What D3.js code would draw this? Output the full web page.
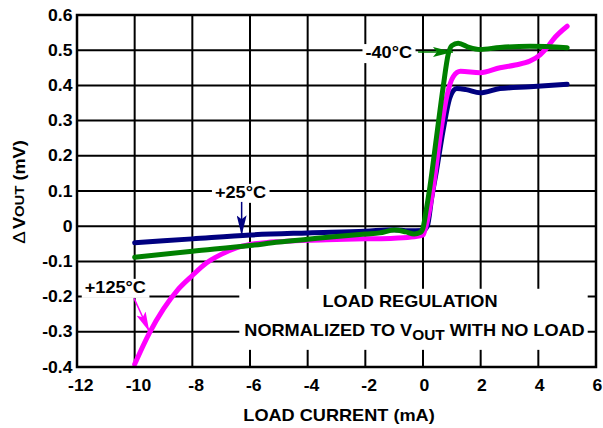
<!DOCTYPE html>
<html>
<head>
<meta charset="utf-8">
<script src="https://cdn.jsdelivr.net/npm/d3@7"></script>
<style>
  html, body { margin: 0; padding: 0; background: #fff; }
  text { font-family: "Liberation Sans", Arial, sans-serif; font-weight: bold; fill: #000; }
</style>
</head>
<body>
<svg id="chart" width="603" height="428"></svg>
<script>
// axis ticks
const xTicks = [-12, -10, -8, -6, -4, -2, 0, 2, 4, 6];
const yTicks = [0.6, 0.5, 0.4, 0.3, 0.2, 0.1, 0, -0.1, -0.2, -0.3, -0.4];
const yTickLabels = ["0.6", "0.5", "0.4", "0.3", "0.2", "0.1", "0", "-0.1", "-0.2", "-0.3", "-0.4"];

// +25°C (load current mA, delta Vout mV)
const cur25 = [-10, -8, -6, -4, -2, -1, -0.5, 0, 0.15, 0.3, 0.47, 0.7, 0.94, 1.17, 1.5, 1.98, 2.67, 3.71, 5.0];
const mv25 = [-0.047, -0.036, -0.025, -0.019, -0.014, -0.01, -0.013, -0.012, 0.0, 0.08, 0.159, 0.273, 0.367, 0.391, 0.388, 0.379, 0.391, 0.396, 0.403];

// -40°C
const curM40 = [-10, -8, -6, -5, -4, -3, -2, -1.5, -1, -0.6, -0.3, -0.1, 0, 0.1, 0.24, 0.47, 0.7, 0.88, 1.0, 1.22, 1.6, 1.98, 2.67, 3.71, 5.0];
const mvM40 = [-0.088, -0.071, -0.055, -0.045, -0.037, -0.029, -0.022, -0.019, -0.011, -0.016, -0.022, -0.018, -0.005, 0.04, 0.112, 0.254, 0.396, 0.49, 0.513, 0.52, 0.508, 0.502, 0.508, 0.511, 0.507];

// +125°C
const cur125 = [-10, -9.5, -9, -8.5, -8, -7.5, -7, -6.5, -6, -5.4, -5, -4, -3, -2, -1, -0.3, 0, 0.07, 0.36, 0.59, 0.82, 1.05, 1.3, 1.98, 2.67, 3.2, 3.71, 4.06, 4.3, 4.52, 5.0];
const mv125 = [-0.392, -0.305, -0.235, -0.18, -0.14, -0.104, -0.08, -0.062, -0.052, -0.046, -0.044, -0.04, -0.038, -0.036, -0.034, -0.03, -0.025, -0.01, 0.112, 0.254, 0.367, 0.425, 0.44, 0.436, 0.45, 0.458, 0.469, 0.487, 0.507, 0.531, 0.568];

const seriesNames = ["+25°C", "+125°C", "-40°C"];
const seriesColors = ["#000080", "#ff00ff", "#008000"];

const SX = 1.1; // glyphs in the original are a bit wider than Arial
const svg = d3.select("#chart");
const pL = 77, pT = 15, pR = 596, pB = 367;

const x = d3.scaleLinear().domain([-12, 6]).range([pL, pR]);
const y = d3.scaleLinear().domain([-0.4, 0.6]).range([pB, pT]);

function stretched(parent, px, py, str, anchor, size) {
    return parent.append("text")
        .attr("transform", `translate(${px},${py}) scale(${SX},1)`)
        .attr("text-anchor", anchor)
        .style("font-size", size + "px")
        .text(str);
}

// grid
const grid = svg.append("g");
grid.selectAll("line.h").data(yTicks).join("line").attr("class", "h")
    .attr("x1", pL).attr("x2", pR)
    .attr("y1", d => y(d)).attr("y2", d => y(d))
    .attr("stroke", "#000").attr("stroke-width", 2);
grid.selectAll("line.v").data(xTicks).join("line").attr("class", "v")
    .attr("x1", d => x(d)).attr("x2", d => x(d))
    .attr("y1", pT).attr("y2", pB)
    .attr("stroke", "#000").attr("stroke-width", 2);

// axes (labels only, the grid does the lines)
const yAxis = svg.append("g").attr("transform", `translate(${pL},0)`)
    .call(d3.axisLeft(y).tickValues(yTicks).tickSize(0).tickPadding(0)
        .tickFormat((d, i) => yTickLabels[i]));
const xAxis = svg.append("g").attr("transform", `translate(0,${pB})`)
    .call(d3.axisBottom(x).tickValues(xTicks).tickSize(0).tickPadding(13)
        .tickFormat(d => String(d)));
[yAxis, xAxis].forEach(a => {
    a.select(".domain").remove();
    a.selectAll("text")
        .style("font-family", "'Liberation Sans', Arial, sans-serif")
        .style("font-weight", "bold").style("font-size", "16px").attr("fill", "#000");
});
yAxis.selectAll("text").attr("x", -4.5 / SX).attr("transform", `scale(${SX},1)`);
xAxis.selectAll("text").attr("x", d => (d < 0 ? 3.3 : 0.8) / SX).attr("transform", `scale(${SX},1)`);

// axis titles
stretched(svg, 339, 421, "LOAD CURRENT (mA)", "middle", 16.5);
const yt = svg.append("text")
    .attr("transform", `translate(25,192) rotate(-90) scale(${SX},1)`)
    .attr("text-anchor", "middle").style("font-size", "16.5px");
yt.append("tspan").text("Δ").style("font-weight", "normal").style("font-size", "17px");
yt.append("tspan").attr("dx", 2).text("V");
yt.append("tspan").text("OUT").style("font-size", "13.5px").attr("dy", -1);
yt.append("tspan").text(" (mV)").attr("dy", 1);

// note box
const note = svg.append("g");
const noteBg = note.append("rect").attr("fill", "#fff");
stretched(note, 410, 307, "LOAD REGULATION", "middle", 16.5);
const n2 = note.append("text")
    .attr("transform", `translate(414.5,336) scale(${SX},1)`)
    .attr("text-anchor", "middle").style("font-size", "16.5px");
n2.append("tspan").text("NORMALIZED TO V");
n2.append("tspan").text("OUT").style("font-size", "14px").attr("dy", 4);
n2.append("tspan").text(" WITH NO LOAD").attr("dy", -4);
const nb = note.node().getBBox();
noteBg.attr("x", nb.x - 5).attr("y", nb.y - 3).attr("width", nb.width + 8).attr("height", nb.height + 10);

// series labels with white backing
const labels = [
    { name: "-40°C", at: [-0.38, 0.477], anchor: "end", from: [-0.17, 0.495], to: [1.04, 0.495] },
    { name: "+25°C", at: [-6.33, 0.08], anchor: "middle", from: [-6.29, 0.069], to: [-6.29, -0.026] },
    { name: "+125°C", at: [-10.67, -0.19], anchor: "middle", from: [-10.02, -0.205], to: [-9.49, -0.30] }
];
labels.forEach(l => {
    const g = svg.append("g");
    const bg = g.append("rect").attr("fill", "#fff");
    stretched(g, x(l.at[0]), y(l.at[1]), l.name, l.anchor, 16.5);
    const b = g.node().getBBox();
    bg.attr("x", b.x - 3).attr("y", b.y + 1).attr("width", b.width + 6).attr("height", b.height);
});

// curves
const line = d3.line().x(d => x(d[0])).y(d => y(d[1])).curve(d3.curveMonotoneX);
const curves = [d3.zip(cur25, mv25), d3.zip(cur125, mv125), d3.zip(curM40, mvM40)];
svg.append("g").selectAll("path").data(curves).join("path")
    .attr("d", line)
    .attr("fill", "none")
    .attr("stroke", (d, i) => seriesColors[i])
    .attr("stroke-width", 5)
    .attr("stroke-linejoin", "round")
    .attr("stroke-linecap", "round");

// arrows
const defs = svg.append("defs");
const arrowColor = { "-40°C": "#008000", "+25°C": "#000080", "+125°C": "#ff00ff" };
labels.forEach((l, i) => {
    defs.append("marker").attr("id", "ah" + i)
        .attr("viewBox", "0 0 20 10").attr("refX", 20).attr("refY", 5)
        .attr("markerWidth", 20).attr("markerHeight", 10)
        .attr("markerUnits", "userSpaceOnUse").attr("orient", "auto")
        .append("path").attr("d", "M0,0L20,5L0,10L4,5Z").attr("fill", arrowColor[l.name]);
    svg.append("line")
        .attr("x1", x(l.from[0])).attr("y1", y(l.from[1]))
        .attr("x2", x(l.to[0])).attr("y2", y(l.to[1]))
        .attr("stroke", arrowColor[l.name]).attr("stroke-width", 1.5)
        .attr("marker-end", `url(#ah${i})`);
});

// frame
svg.append("rect")
    .attr("x", pL).attr("y", pT).attr("width", pR - pL).attr("height", pB - pT)
    .attr("fill", "none").attr("stroke", "#000").attr("stroke-width", 2.5);
</script>
</body>
</html>
